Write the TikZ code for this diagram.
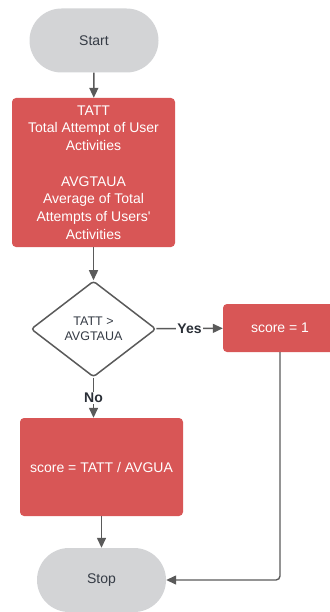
\documentclass[tikz,border=0pt]{standalone}
\usepackage{fontspec}
\setmainfont{Liberation Sans}
\usetikzlibrary{shapes.geometric,arrows.meta}
\definecolor{boxred}{HTML}{D85656}
\definecolor{pillgray}{HTML}{D3D4D6}
\definecolor{linegray}{HTML}{5A5A5A}
\definecolor{txtgray}{HTML}{353B45}
\begin{document}
\begin{tikzpicture}[x=1pt,y=-1pt,
	pill/.style={fill=pillgray,text=txtgray,rounded corners=32pt,minimum width=129pt,minimum height=64pt,font=\fontsize{14}{17}\selectfont},
	redbox/.style={fill=boxred,text=white,rounded corners=4pt,align=center,inner sep=0pt,font=\fontsize{14}{17.7}\selectfont},
	decision/.style={diamond,draw=linegray,line width=1.5pt,fill=white,rounded corners=3pt,minimum width=125pt,minimum height=96pt,inner sep=0pt,align=center,text=txtgray,font=\fontsize{12.5}{15}\selectfont},
	arr/.style={draw=linegray,line width=1.4pt,-{Triangle[width=9pt,length=10pt]}},
	lbl/.style={fill=white,inner sep=1pt,text=txtgray!80!black,font=\bfseries\fontsize{14}{16}\selectfont}]
	\useasboundingbox (0,0) rectangle (329,612);
	\node[pill] (start) at (94,40.5){Start};
	\node[redbox,minimum width=163pt,minimum height=149pt] (vars) at (93.5,172.5){TATT\\Total Attempt of User\\Activities\\[17.7pt]AVGTAUA\\Average of Total\\Attempts of Users\textquotesingle\\Activities};
	\node[decision] (cmp) at (93.5,329){TATT >\\AVGTAUA};
	\node[redbox,minimum width=114pt,minimum height=48pt] (one) at (280,328){score = 1};
	\node[redbox,minimum width=163pt,minimum height=98pt] (ratio) at (101.5,467){score = TATT / AVGUA};
	\node[pill] (stop) at (101.5,580){Stop};
	\draw[arr] (start) -- (vars);
	\draw[arr] (vars) -- (cmp);
	\draw[arr] (cmp) -- node[lbl]{Yes} (one);
	\draw[arr] (cmp.south) -- node[lbl]{No} (cmp.south |- ratio.north);
	\draw[arr] (ratio) -- (stop);
	\draw[arr,rounded corners=4pt] (one.south) |- (stop.east);
\end{tikzpicture}
\end{document}
